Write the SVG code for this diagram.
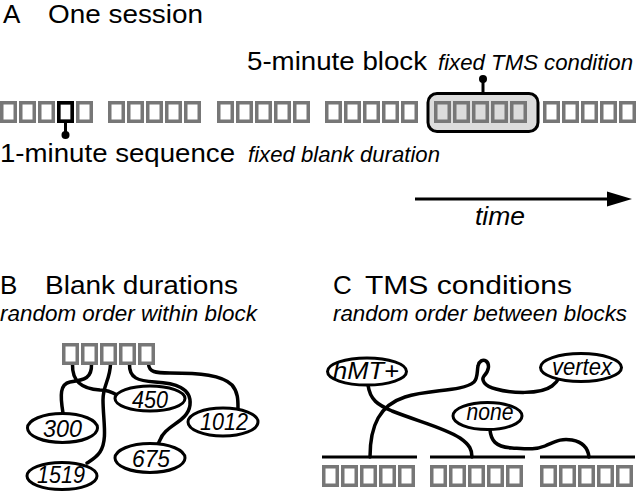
<svg xmlns="http://www.w3.org/2000/svg" xmlns:xlink="http://www.w3.org/1999/xlink" width="640" height="491" viewBox="0 0 640 491">
<style>
.t{font-family:"Liberation Sans",Arial,sans-serif;fill:#000;}
.big{font-size:26px;}
.it{font-style:italic;font-size:22px;}
.lbl{font-family:"Liberation Sans",Arial,sans-serif;font-style:italic;font-size:23px;text-anchor:middle;}
.sq{fill:none;stroke:#777;stroke-width:3.5;}
.wire{fill:none;stroke:#000;stroke-width:3.5;stroke-linecap:round;}
.ell{fill:#fff;stroke:#000;stroke-width:3;}
.bar{stroke:#000;stroke-width:3;}
</style>
<defs>
<g id="blk5">
<rect class="sq" x="1.75" y="1.75" width="13.5" height="18.5"/>
<rect class="sq" x="20.75" y="1.75" width="13.5" height="18.5"/>
<rect class="sq" x="39.75" y="1.75" width="13.5" height="18.5"/>
<rect class="sq" x="58.75" y="1.75" width="13.5" height="18.5"/>
<rect class="sq" x="77.75" y="1.75" width="13.5" height="18.5"/>
</g>
</defs>
<rect width="640" height="491" fill="#fff"/>

<!-- Panel A -->
<g id="panelA-title">
<text class="t big" x="3" y="23">A</text>
<text class="t big" x="48" y="23" textLength="155" lengthAdjust="spacingAndGlyphs">One session</text>
</g>
<g id="block-highlight">
<rect x="428" y="93.5" width="110" height="38" rx="9" fill="#dcdcdc" stroke="#000" stroke-width="3"/>
</g>
<g id="session-row">
<use xlink:href="#blk5" x="0" y="101"/>
<use xlink:href="#blk5" x="108" y="101"/>
<use xlink:href="#blk5" x="217" y="101"/>
<use xlink:href="#blk5" x="325" y="101"/>
<use xlink:href="#blk5" x="434" y="101"/>
<use xlink:href="#blk5" x="543" y="101"/>
</g>
<g id="sequence-highlight">
<rect x="58.75" y="102.75" width="13.5" height="18.5" fill="none" stroke="#000" stroke-width="3.5"/>
<line class="bar" x1="65.5" y1="122" x2="65.5" y2="134"/>
<circle cx="65.5" cy="135" r="4"/>
</g>
<g id="block-pin">
<line class="bar" x1="483" y1="93" x2="483" y2="80"/>
<circle cx="483" cy="79" r="4"/>
</g>
<g id="label-block">
<text class="t big" x="247" y="70" textLength="180" lengthAdjust="spacingAndGlyphs">5-minute block</text>
<text class="t it" x="438" y="70" textLength="195" lengthAdjust="spacingAndGlyphs">fixed TMS condition</text>
</g>
<g id="label-sequence">
<text class="t big" x="0" y="162" textLength="235" lengthAdjust="spacingAndGlyphs">1-minute sequence</text>
<text class="t it" x="248" y="162" textLength="192" lengthAdjust="spacingAndGlyphs">fixed blank duration</text>
</g>
<g id="time-arrow">
<line class="bar" x1="415" y1="199" x2="612" y2="199"/>
<polygon points="607,191.5 632,199 607,206.5" fill="#000"/>
<text class="t it" x="475" y="225" style="font-size:25px" textLength="50" lengthAdjust="spacingAndGlyphs">time</text>
</g>

<!-- Panel B -->
<g id="panelB-title">
<text class="t big" x="0" y="294">B</text>
<text class="t big" x="45" y="294" textLength="193" lengthAdjust="spacingAndGlyphs">Blank durations</text>
<text class="t it" x="0" y="321" textLength="257" lengthAdjust="spacingAndGlyphs">random order within block</text>
</g>
<g id="panelC-title">
<text class="t big" x="333" y="294">C</text>
<text class="t big" x="365" y="294" textLength="207" lengthAdjust="spacingAndGlyphs">TMS conditions</text>
<text class="t it" x="333" y="321" textLength="294" lengthAdjust="spacingAndGlyphs">random order between blocks</text>
</g>

<g id="connectors">
<path class="wire" d="M72.5,364 C72,382 82,389 100,390 C108,390 112,392 117,395"/>
<path class="wire" d="M91.5,364 C92,378 85,380 70,382 C60,384 60,395 63,413"/>
<path class="wire" d="M110.5,364 C110,380 103,385 103,400 C103,420 108,440 100,452 C96,458 90,461 87,463"/>
<path class="wire" d="M129.5,364 C129,378 138,381 155,382 C175,383 192,388 190,405 C188,422 165,425 160,440 L158,444"/>
<path class="wire" d="M148.5,364 C149,372 155,373 170,373 C200,373 222,375 232,385 C238,392 238,400 238,408"/>
<path class="wire" d="M368,385 C370,400 378,405 392,411 C420,422 445,428 460,438 C470,445 472,450 472,457"/>
<path class="wire" d="M370,457 C370,425 380,405 405,397 C430,389 462,392 474,382 C478,378 477,370 478,366 C479,361 483,359 486,361 C490,364 489,371 484,376 C481,380 484,386 496,389 C510,393 540,395 552,386 C556,383 558,380 559,378"/>
<path class="wire" d="M490,430 C491,440 495,447 512,448 C528,449 535,450 545,446 C555,442 560,438 572,440 C583,442 588,448 589,457"/>
</g>

<g id="block-B">
<use xlink:href="#blk5" x="62" y="343"/>
</g>
<g id="dur-300">
<ellipse class="ell" cx="62.5" cy="428" rx="35" ry="14.5"/>
<text class="lbl" x="62.5" y="437" textLength="39" lengthAdjust="spacingAndGlyphs">300</text>
</g>
<g id="dur-450">
<ellipse class="ell" cx="150" cy="398.5" rx="35" ry="12.5"/>
<text class="lbl" x="150" y="407.5" textLength="36" lengthAdjust="spacingAndGlyphs">450</text>
</g>
<g id="dur-1012">
<ellipse class="ell" cx="223" cy="422" rx="35" ry="14"/>
<text class="lbl" x="224" y="430" textLength="48" lengthAdjust="spacingAndGlyphs">1012</text>
</g>
<g id="dur-675">
<ellipse class="ell" cx="150" cy="458" rx="35" ry="14.5"/>
<text class="lbl" x="151" y="467" textLength="38" lengthAdjust="spacingAndGlyphs">675</text>
</g>
<g id="dur-1519">
<ellipse class="ell" cx="62" cy="476" rx="35" ry="13.5"/>
<text class="lbl" x="61" y="483" textLength="48" lengthAdjust="spacingAndGlyphs">1519</text>
</g>

<!-- Panel C -->
<g id="blocks-C">
<line class="bar" x1="322" y1="457" x2="417" y2="457"/>
<line class="bar" x1="430" y1="457" x2="525" y2="457"/>
<line class="bar" x1="540" y1="457" x2="635" y2="457"/>
<use xlink:href="#blk5" x="322" y="465"/>
<use xlink:href="#blk5" x="430" y="465"/>
<use xlink:href="#blk5" x="540" y="465"/>
</g>
<g id="cond-hMT">
<ellipse class="ell" cx="367" cy="371.5" rx="39.5" ry="13.5"/>
<text class="lbl" x="366" y="379" textLength="66" lengthAdjust="spacingAndGlyphs">hMT+</text>
</g>
<g id="cond-vertex">
<ellipse class="ell" cx="581" cy="367.5" rx="40.5" ry="14"/>
<text class="lbl" x="582" y="375" textLength="60" lengthAdjust="spacingAndGlyphs">vertex</text>
</g>
<g id="cond-none">
<ellipse class="ell" cx="487.5" cy="416" rx="34.5" ry="13.5"/>
<text class="lbl" x="490" y="420" textLength="47" lengthAdjust="spacingAndGlyphs">none</text>
</g>
</svg>
